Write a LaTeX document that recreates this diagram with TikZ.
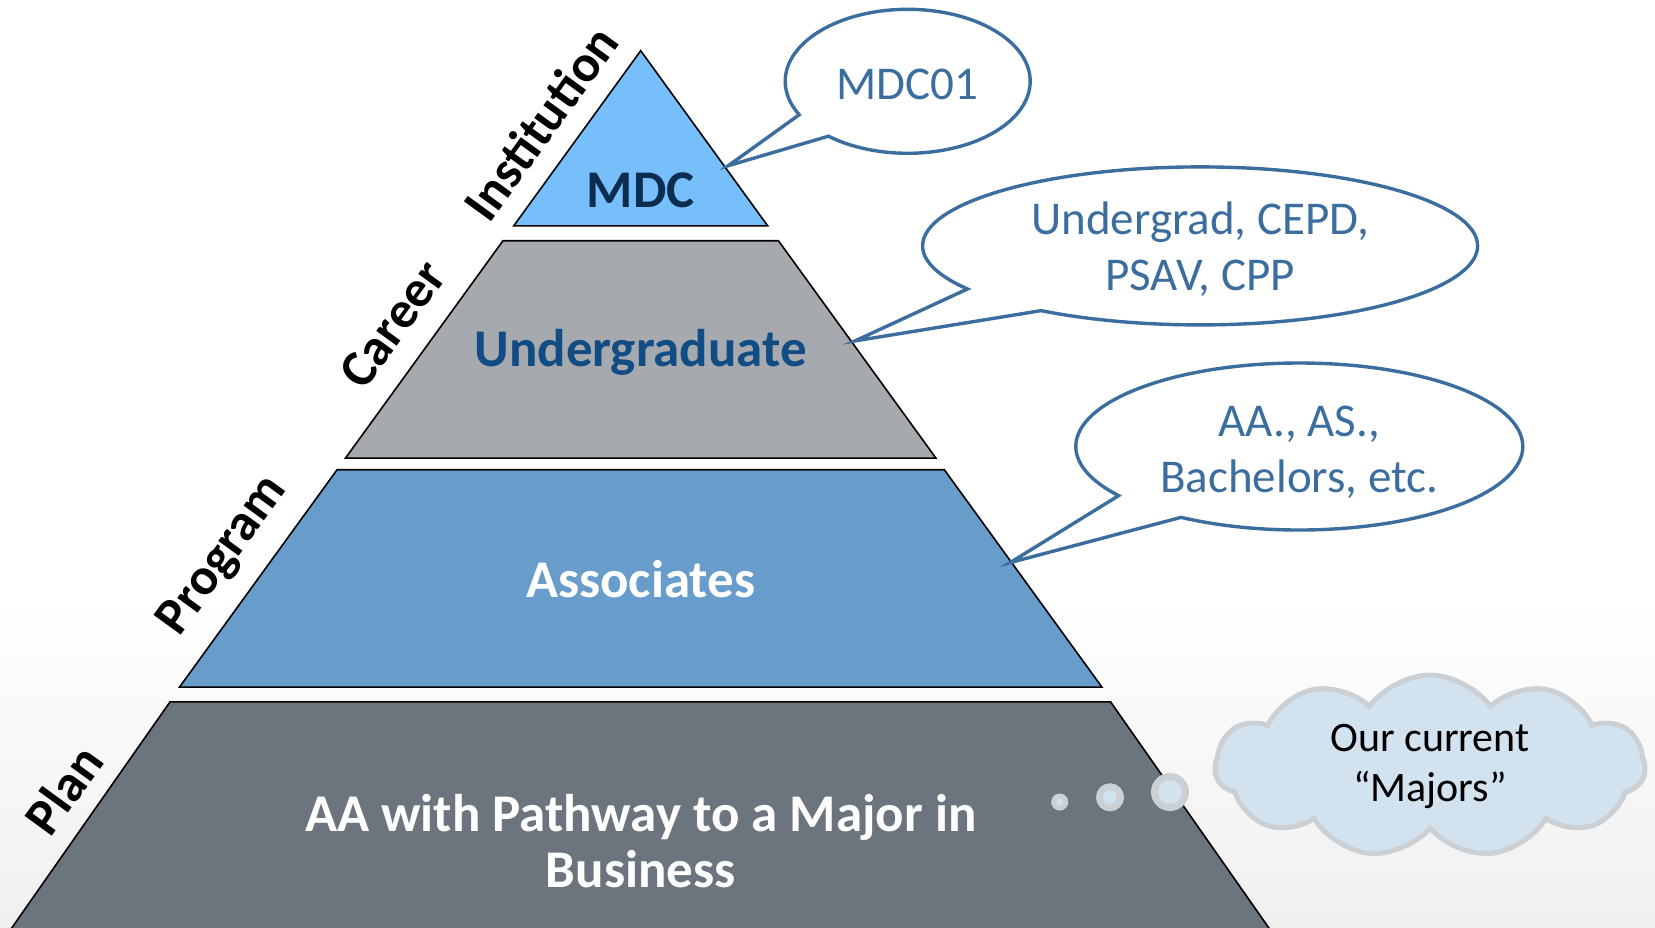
\documentclass[tikz,border=0pt]{standalone}
\usepackage{fontspec}
\setmainfont{Carlito}
\usetikzlibrary{shapes.callouts,shapes.symbols}
\definecolor{mdcfill}{HTML}{76BFFB}
\definecolor{carfill}{HTML}{A6A9AD}
\definecolor{progfill}{HTML}{679CCB}
\definecolor{planfill}{HTML}{6C757D}
\definecolor{mdctext}{HTML}{0D2D50}
\definecolor{ugtext}{HTML}{114C84}
\definecolor{callblue}{HTML}{3B6E9F}
\definecolor{cloudfill}{HTML}{D2E2EE}
\definecolor{cloudline}{HTML}{CBD0D5}
\begin{document}
\begin{tikzpicture}[x=1pt,y=-1pt,
  layer/.style={draw=black,line width=1.6pt,line join=miter},
  big/.style={font=\fontsize{53}{56}\selectfont\bfseries, align=center, inner sep=0pt},
  sidelabel/.style={font=\fontsize{52}{55}\selectfont\bfseries, rotate=54, inner sep=0pt},
  bubble/.style={ellipse callout, draw=callblue, line width=3.4pt, fill=white,
    inner sep=0pt, callout pointer arc=22},
  bubbletext/.style={text=callblue, font=\fontsize{47}{56}\selectfont, align=center, inner sep=0pt},
  thought/.style={circle, fill=cloudfill, draw=cloudline, inner sep=0pt}
]
\useasboundingbox (0,0) rectangle (1655,927);
\fill[white] (0,0) rectangle (1655,927);
\shade[top color=white, bottom color=black!6] (0,600) rectangle (1655,927);

% pyramid layers
\fill[mdcfill] (640.7,50.7) -- (767.7,225.9) -- (513.7,225.9) -- cycle;
\draw[layer] (640.7,50.7) -- (767.7,225.9) -- (513.7,225.9) -- cycle;
\filldraw[layer,fill=carfill] (503.0,240.7) -- (778.4,240.7) -- (935.9,458.1) -- (345.5,458.1) -- cycle;
\filldraw[layer,fill=progfill] (337.1,469.7) -- (944.3,469.7) -- (1101.9,687.1) -- (179.5,687.1) -- cycle;
\filldraw[layer,fill=planfill] (170.0,701.9) -- (1110.6,701.9) -- (1277.3,940) -- (3.3,940) -- cycle;

% layer texts
\node[big, text=mdctext] (mdc) at (640.7,190) {MDC};
\node[big, text=ugtext] (ug) at (640.7,352.5) {Undergraduate};
\node[big, text=white] (assoc) at (640.7,579.5) {Associates};
\node[big, text=white] (plan) at (640.7,841) {AA with Pathway to a Major in\\Business};

% side labels
\node[sidelabel] (linst) at (540.4,123) {Institution};
\node[sidelabel] (lcar) at (392.6,324) {Career};
\node[sidelabel] (lprog) at (223.8,556.2) {Program};
\node[sidelabel] (lplan) at (63.3,789.5) {Plan};

% callouts
\coordinate (p1) at (728.3,165.7);
\coordinate (p2) at (855,340.9);
\coordinate (p3) at (1010.1,562.6);
\node[bubble, minimum width=245, minimum height=144, callout absolute pointer={(p1)}] (c1) at (907.7,81.3) {};
\node[bubble, minimum width=555, minimum height=158, callout absolute pointer={(p2)}] (c2) at (1200.1,245.9) {};
\node[bubble, minimum width=447, minimum height=167, callout absolute pointer={(p3)}] (c3) at (1299.3,446.5) {};
\node[bubbletext] (c1t) at (907.7,84.5) {MDC01};
\node[bubbletext] (c2t) at (1200.1,249.2) {Undergrad, CEPD,\\PSAV, CPP};
\node[bubbletext] (c3t) at (1299.3,451.8) {AA., AS.,\\Bachelors, etc.};

% cloud
\node[cloud, cloud puffs=11, cloud puff arc=110, aspect=2.3, fill=cloudfill, draw=cloudline, line width=5pt,
  minimum width=430, minimum height=182, font=\fontsize{42}{50}\selectfont, align=center, inner sep=0pt] (cl) at (1430,766) {Our current\\“Majors”};
\node[thought, line width=5pt, minimum size=12] (t1) at (1059.7,802) {};
\node[thought, line width=7pt, minimum size=21] (t2) at (1110,797.3) {};
\node[thought, line width=7pt, minimum size=31] (t3) at (1170,792) {};
\end{tikzpicture}
\end{document}
